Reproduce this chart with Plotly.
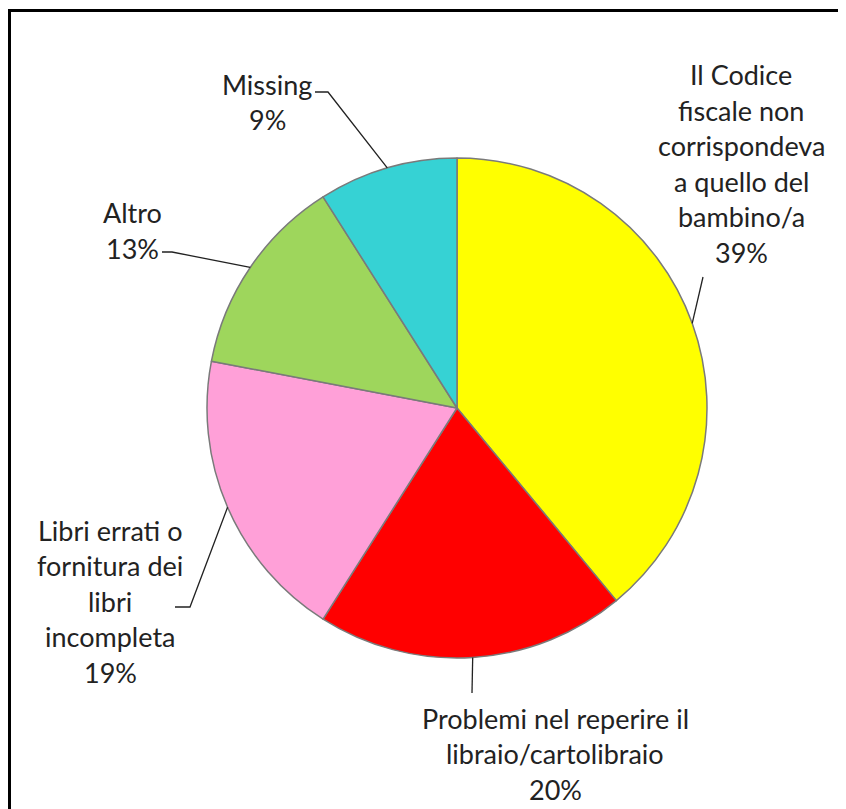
import math
import plotly.graph_objects as go

# ---- data ----
categories = [
    "Il Codice fiscale non corrispondeva a quello del bambino/a",
    "Problemi nel reperire il libraio/cartolibraio",
    "Libri errati o fornitura dei libri incompleta",
    "Altro",
    "Missing",
]
values = [39, 20, 19, 13, 9]
label_lines = [
    ["Il Codice", "fiscale non", "corrispondeva", "a quello del", "bambino/a"],
    ["Problemi nel reperire il", "libraio/cartolibraio"],
    ["Libri errati o", "fornitura dei", "libri", "incompleta"],
    ["Altro"],
    ["Missing"],
]
colors = ["#FFFF00", "#FF0000", "#FFA0D8", "#9ED65C", "#36D2D4"]

# ---- layout geometry (screen pixels; page body has an 8px margin) ----
OFF = 8
W, H = 846 - OFF, 809 - OFF
CX, CY, R = 457, 408, 250
label_anchor = [(741, 75), (555, 718), (110, 530), (133, 213), (267, 84)]
LINE_STEP = 35.5
leader_label_side = [
    [(703, 277)],
    [(472, 693)],
    [(175, 607), (190, 607)],
    [(162, 252), (172, 252)],
    [(315, 92), (328, 92)],
]
FONT = dict(family="Lato, 'Open Sans', sans-serif", size=27, color="#222222")


def px(x, y):
    return (x - OFF) / W, 1 - (y - OFF) / H


fig = go.Figure()
dx0, dy1 = px(CX - R, CY - R)
dx1, dy0 = px(CX + R, CY + R)
fig.add_trace(go.Pie(
    labels=categories,
    values=values,
    sort=False,
    direction="clockwise",
    rotation=0,
    marker=dict(colors=colors, line=dict(color="#7a7a7a", width=1.5)),
    textinfo="none",
    hoverinfo="label+percent",
    showlegend=False,
    domain=dict(x=[dx0, dx1], y=[dy0, dy1]),
))

annotations = []
shapes = []
total = sum(values)
cum = 0
for i, v in enumerate(values):
    lines = label_lines[i] + [f"{round(100 * v / total)}%"]
    ax0, ay0 = label_anchor[i]
    for k, t in enumerate(lines):
        xp, yp = px(ax0, ay0 + k * LINE_STEP)
        annotations.append(dict(
            x=xp, y=yp, xref="paper", yref="paper", text=t, showarrow=False,
            xanchor="center", yanchor="middle", font=FONT,
        ))
    # leader line: from label side to slice mid-angle edge
    theta = 2 * math.pi * (cum + v / 2) / total
    ex, ey = CX + R * math.sin(theta), CY - R * math.cos(theta)
    pts = leader_label_side[i] + [(ex, ey)]
    path = ""
    for j, (x, y) in enumerate(pts):
        xp, yp = px(x, y)
        path += ("M" if j == 0 else " L") + f"{xp:.5f},{yp:.5f}"
    shapes.append(dict(type="path", path=path, xref="paper", yref="paper",
                       line=dict(color="#222222", width=1.3)))
    cum += v

# outer frame
fx0, fy1 = px(9.5, 10.5)
shapes.append(dict(type="rect", xref="paper", yref="paper",
                   x0=fx0, x1=1.02, y0=-0.02, y1=fy1,
                   line=dict(color="black", width=3)))

fig.update_layout(
    width=W, height=H,
    margin=dict(l=0, r=0, t=0, b=0),
    paper_bgcolor="white", plot_bgcolor="white",
    annotations=annotations, shapes=shapes,
)
fig.write_html("out.html")
